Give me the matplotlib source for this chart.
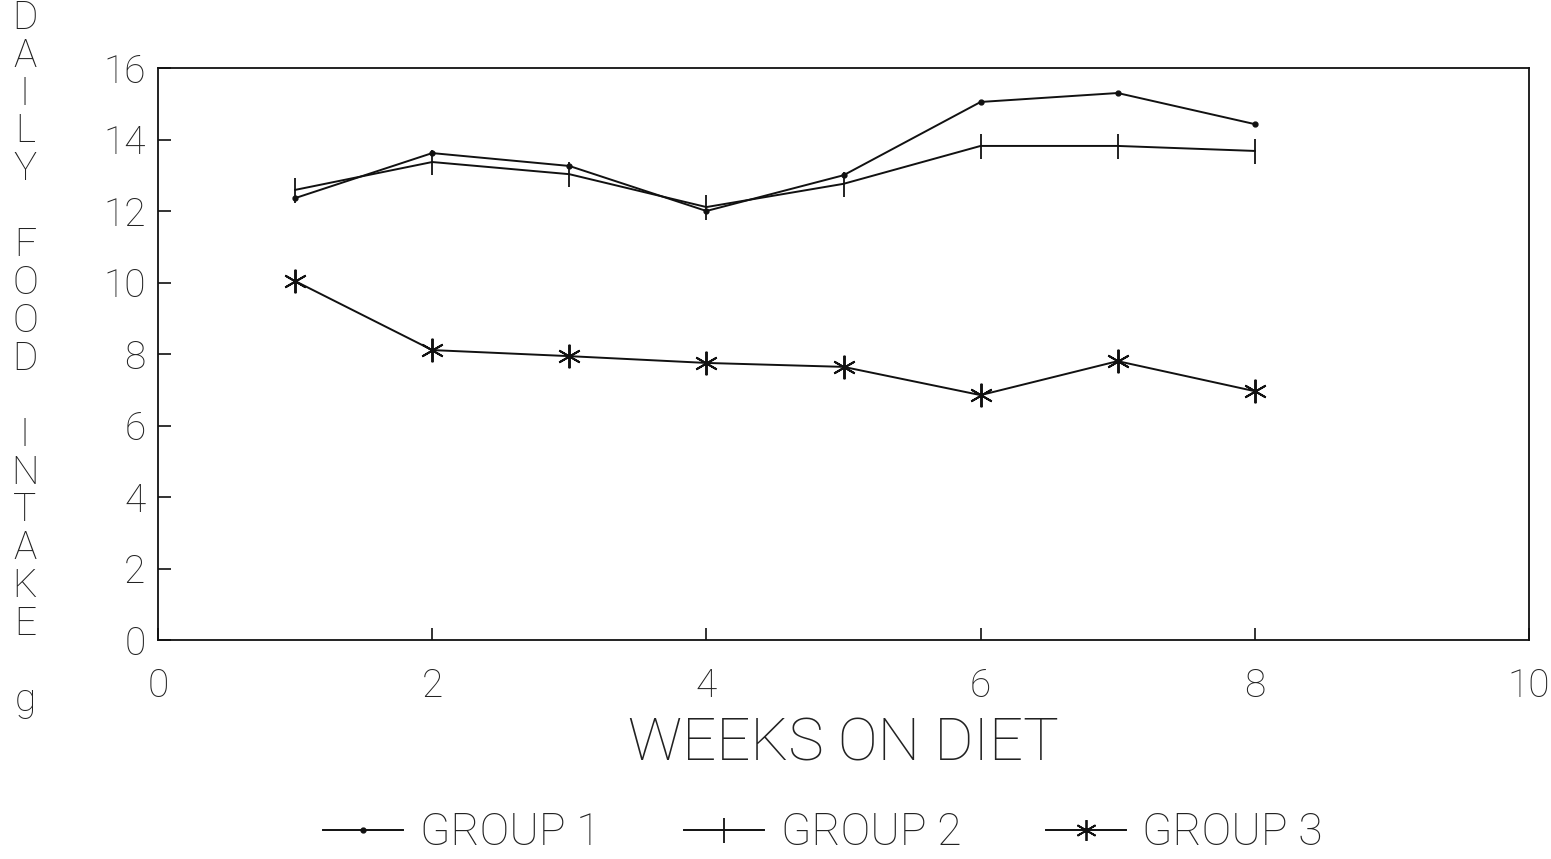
import matplotlib
matplotlib.use("Agg")
import matplotlib.pyplot as plt
from matplotlib.lines import Line2D

plt.rcParams['font.family'] = ['Roboto', 'Liberation Sans', 'DejaVu Sans']

weeks = [1, 2, 3, 4, 5, 6, 7, 8]
group1 = [12.36, 13.62, 13.26, 12.00, 13.00, 15.05, 15.30, 14.43]
group2 = [12.59, 13.37, 13.03, 12.11, 12.76, 13.82, 13.82, 13.68]
group3 = [10.04, 8.11, 7.94, 7.75, 7.64, 6.85, 7.80, 6.96]
labels = ["GROUP 1", "GROUP 2", "GROUP 3"]
xticks = [0, 2, 4, 6, 8, 10]
yticks = [0, 2, 4, 6, 8, 10, 12, 14, 16]
ylabel_chars = "DAILY FOOD INTAKE g"

W, H = 1551, 859
fig = plt.figure(figsize=(W / 100, H / 100), dpi=100)
ax = fig.add_axes([158 / W, (H - 640) / H, (1529 - 158) / W, (640 - 68) / H])

lw = 1.4
c = '#111111'
tc = '#222222'
ax.plot(weeks, group1, color=c, lw=lw, marker='o', markersize=3.5)
ax.plot(weeks, group2, color=c, lw=lw, marker='|', markersize=18, markeredgewidth=1.3)
ax.plot(weeks, group3, color=c, lw=lw, marker=(6, 2, 0), markersize=17, markeredgewidth=1.4)

ax.set_xlim(0, 10)
ax.set_ylim(0, 16)
ax.set_xticks(xticks)
ax.set_yticks(yticks)
ax.tick_params(axis='both', direction='in', length=9, width=1.2, colors=c,
               labelsize=28, labelcolor=tc)
ax.tick_params(axis='x', pad=20)
ax.tick_params(axis='y', pad=9)
for lab in ax.get_xticklabels() + ax.get_yticklabels():
    lab.set_fontweight('light')
for s in ax.spines.values():
    s.set_linewidth(1.3)
    s.set_color(c)

ax.set_xlabel("WEEKS ON DIET", fontsize=43, fontweight='light', color=tc, labelpad=8)

# stacked vertical y label
step = 37.9
for i, ch in enumerate(ylabel_chars):
    if ch == ' ':
        continue
    y = 18 + step * i
    fig.text(25 / W, 1 - y / H, ch, fontsize=28, fontweight='light', color=tc,
             ha='center', va='center')

handles = [
    Line2D([], [], color=c, lw=lw, marker='o', markersize=3.5),
    Line2D([], [], color=c, lw=lw, marker='|', markersize=18, markeredgewidth=1.3),
    Line2D([], [], color=c, lw=lw, marker=(6, 2, 0), markersize=15, markeredgewidth=1.3),
]
leg = fig.legend(handles, labels, loc='center', bbox_to_anchor=(823 / W, 1 - 833 / H),
                 ncol=3, frameon=False, fontsize=32, handlelength=1.8,
                 handletextpad=0.37, columnspacing=1.9, numpoints=1)
for t in leg.get_texts():
    t.set_fontweight('light')
    t.set_color(tc)

fig.savefig("out.png", dpi=100, facecolor='white')
